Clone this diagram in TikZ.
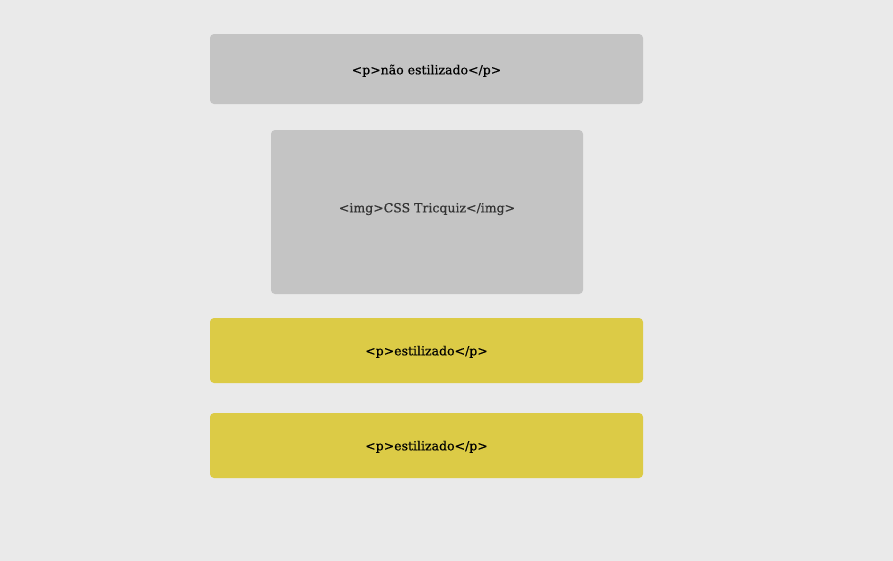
\documentclass[tikz,border=0pt]{standalone}
\usepackage{fontspec}
\setmainfont{DejaVu Serif}[FakeBold=0.5]
\definecolor{fundo}{HTML}{EAEAEA}
\definecolor{cinza}{HTML}{C4C4C4}
\definecolor{amarelo}{HTML}{DCCB46}
\definecolor{textocinza}{HTML}{333333}
\begin{document}
\begin{tikzpicture}[x=1pt, y=-1pt,
   caixa/.style = {rounded corners=4pt, inner sep=0pt, text depth=0pt, font=\fontsize{12.5}{14}\selectfont},
   cinzabox/.style = {caixa, fill=cinza},
   amarelobox/.style = {caixa, fill=amarelo, text height=9.6pt}]
   \useasboundingbox (0, 0) rectangle (893, 560);
   \fill[fundo] (-2, -2) rectangle (895, 562);
   \node[cinzabox, minimum width=433pt, minimum height=70pt, text height=10.6pt] (naoestilizado) at (426.5, 69) {<p>não estilizado</p>};
   \node[cinzabox, minimum width=312pt, minimum height=164pt, text=textocinza, text height=6pt, text depth=5.4pt] (imagem) at (427, 212) {<img>CSS Tricquiz</img>};
   \node[amarelobox, minimum width=433pt, minimum height=65pt] (estilizadoum) at (426.5, 350.5) {<p>estilizado</p>};
   \node[amarelobox, minimum width=433pt, minimum height=65pt] (estilizadodois) at (426.5, 445.5) {<p>estilizado</p>};
\end{tikzpicture}
\end{document}
